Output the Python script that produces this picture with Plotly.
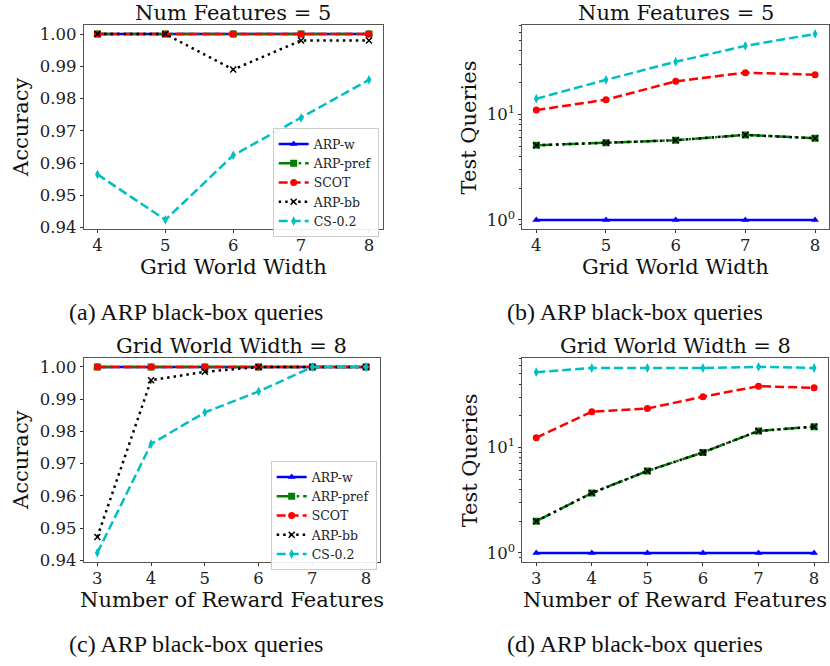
import plotly.graph_objects as go

# ---------------- data ----------------
width_x = [4, 5, 6, 7, 8]
feat_x = [3, 4, 5, 6, 7, 8]

# (a) accuracy vs grid world width (num features = 5)
acc_a_arpw = [1.0, 1.0, 1.0, 1.0, 1.0]
acc_a_pref = [1.0, 1.0, 1.0, 1.0, 1.0]
acc_a_scot = [1.0, 1.0, 1.0, 1.0, 1.0]
acc_a_bb = [1.0, 1.0, 0.989, 0.998, 0.998]
acc_a_cs = [0.9565, 0.9424, 0.9624, 0.974, 0.9858]

# (b) test queries vs grid world width
q_b_arpw = [1, 1, 1, 1, 1]
q_b_pref = [5.1, 5.4, 5.7, 6.4, 5.95]
q_b_scot = [11.0, 13.8, 20.6, 24.9, 23.8]
q_b_bb = [5.1, 5.4, 5.7, 6.4, 5.95]
q_b_cs = [14.1, 21.3, 31.6, 44.7, 58.0]

# (c) accuracy vs number of reward features (grid width = 8)
acc_c_arpw = [1.0, 1.0, 1.0, 1.0, 1.0, 1.0]
acc_c_pref = [1.0, 1.0, 1.0, 1.0, 1.0, 1.0]
acc_c_scot = [1.0, 1.0, 1.0, 1.0, 1.0, 1.0]
acc_c_bb = [0.9472, 0.9959, 0.9985, 1.0, 1.0, 1.0]
acc_c_cs = [0.9423, 0.9761, 0.9859, 0.9924, 1.0, 1.0]

# (d) test queries vs number of reward features
q_d_arpw = [1, 1, 1, 1, 1, 1]
q_d_pref = [2.0, 3.7, 6.0, 9.0, 14.4, 15.8]
q_d_scot = [12.4, 21.9, 23.5, 30.4, 38.3, 37.0]
q_d_bb = [2.0, 3.7, 6.0, 9.0, 14.4, 15.8]
q_d_cs = [52.0, 57.0, 57.0, 57.0, 58.4, 57.0]

names = ["ARP-w", "ARP-pref", "SCOT", "ARP-bb", "CS-0.2"]
captions = ["(a) ARP black-box queries", "(b) ARP black-box queries",
            "(c) ARP black-box queries", "(d) ARP black-box queries"]

acc_ticks = [0.94, 0.95, 0.96, 0.97, 0.98, 0.99, 1.00]
log_ticks = [1, 10]

# ---------------- styling ----------------
W, H = 830, 666
LW = 2.5
styles = {
    "ARP-w": dict(color="#0000FF", dash="solid", symbol="triangle-up"),
    "ARP-pref": dict(color="#008000", dash="16px,4px,2.5px,4px", symbol="square"),
    "SCOT": dict(color="#FF0000", dash="9px,4px", symbol="circle"),
    "ARP-bb": dict(color="#000000", dash="2.5px,4px", symbol="x-thin"),
    "CS-0.2": dict(color="#00BFBF", dash="9px,4px", symbol="diamond-tall"),
}

SERIF = "DejaVu Serif"
TIMES = "Liberation Serif"


def px_x(p):
    return p / W


def px_y(p):
    return 1 - p / H


fig = go.Figure()

panels = [
    ("x", "y", width_x, [acc_a_arpw, acc_a_pref, acc_a_scot, acc_a_bb, acc_a_cs], "legend"),
    ("x2", "y2", width_x, [q_b_arpw, q_b_pref, q_b_scot, q_b_bb, q_b_cs], None),
    ("x3", "y3", feat_x, [acc_c_arpw, acc_c_pref, acc_c_scot, acc_c_bb, acc_c_cs], "legend2"),
    ("x4", "y4", feat_x, [q_d_arpw, q_d_pref, q_d_scot, q_d_bb, q_d_cs], None),
]

for xa, ya, xs, series, leg in panels:
    for name, ys in zip(names, series):
        st = styles[name]
        msize = 7
        mline = dict(width=0)
        if st["symbol"] == "x-thin":
            mline = dict(width=1.5, color=st["color"])
            msize = 6
        tr = go.Scatter(
            x=xs, y=ys, name=name, mode="lines+markers",
            line=dict(color=st["color"], width=LW, dash=st["dash"]),
            marker=dict(symbol=st["symbol"], size=msize, color=st["color"], line=mline),
            xaxis=xa, yaxis=ya,
            showlegend=leg is not None,
        )
        if leg is not None:
            tr.legend = leg
        fig.add_trace(tr)

axis_common = dict(
    showline=True, linecolor="#555555", linewidth=1, mirror=True,
    ticks="outside", ticklen=3, tickcolor="#333333", tickwidth=1,
    showgrid=False, zeroline=False,
    tickfont=dict(family=SERIF, size=16.5, color="#222222"),
)
xaxis_extra = dict(ticklabelstandoff=-2)

# domains (pixel based)
tl = dict(x=(84, 383), y=(25, 232))
trr = dict(x=(523, 830), y=(25, 232))
bl = dict(x=(84, 380), y=(362, 569))
br = dict(x=(523, 829), y=(362, 569))


def dom_x(d):
    return [px_x(d["x"][0]), px_x(d["x"][1])]


def dom_y(d):
    return [px_y(d["y"][1]), px_y(d["y"][0])]


acc_text = ["%.2f" % v for v in acc_ticks]
log_text = ["10<sup>0</sup>", "10<sup>1</sup>"]
minor_log = dict(ticks="outside", ticklen=2.5, tickcolor="#333333", tickwidth=1,
                 dtick="D1", showgrid=False)

fig.update_layout(
    xaxis=dict(domain=dom_x(tl), range=[3.8, 8.2], tickvals=width_x, anchor="y",
               **axis_common, **xaxis_extra),
    yaxis=dict(domain=dom_y(tl), range=[0.9395, 1.0029], tickvals=acc_ticks, ticktext=acc_text,
               anchor="x", **axis_common),
    xaxis2=dict(domain=dom_x(trr), range=[3.8, 8.2], tickvals=width_x, anchor="y2",
                **axis_common, **xaxis_extra),
    yaxis2=dict(domain=dom_y(trr), type="log", range=[-0.088, 1.851], tickvals=log_ticks,
                ticktext=log_text, anchor="x2", minor=minor_log, **axis_common),
    xaxis3=dict(domain=dom_x(bl), range=[2.75, 8.25], tickvals=feat_x, anchor="y3",
                **axis_common, **xaxis_extra),
    yaxis3=dict(domain=dom_y(bl), range=[0.9394, 1.0029], tickvals=acc_ticks, ticktext=acc_text,
                anchor="x3", **axis_common),
    xaxis4=dict(domain=dom_x(br), range=[2.75, 8.25], tickvals=feat_x, anchor="y4",
                **axis_common, **xaxis_extra),
    yaxis4=dict(domain=dom_y(br), type="log", range=[-0.088, 1.854], tickvals=log_ticks,
                ticktext=log_text, anchor="x4", minor=minor_log, **axis_common),
)

legend_common = dict(
    xanchor="left", yanchor="top",
    bgcolor="rgba(255,255,255,0.9)", bordercolor="#cccccc", borderwidth=1,
    font=dict(family=SERIF, size=12.5, color="#222222"),
    tracegroupgap=0, itemwidth=30,
)
fig.update_layout(
    legend=dict(x=px_x(273), y=px_y(130), **legend_common),
    legend2=dict(x=px_x(271), y=px_y(467), **legend_common),
)

annotations = []
# titles
for d, t in [(tl, "Num Features = 5"), (trr, "Num Features = 5"),
             (bl, "Grid World Width = 8"), (br, "Grid World Width = 8")]:
    cx = (d["x"][0] + d["x"][1]) / 2
    annotations.append(dict(text=t, x=px_x(cx), y=px_y(d["y"][0] - 12), xref="paper", yref="paper",
                            showarrow=False, xanchor="center", yanchor="middle",
                            font=dict(family=SERIF, size=21, color="#111111")))
# x axis titles
for d, t in [(tl, "Grid World Width"), (trr, "Grid World Width"),
             (bl, "Number of Reward Features"), (br, "Number of Reward Features")]:
    cx = (d["x"][0] + d["x"][1]) / 2
    annotations.append(dict(text=t, x=px_x(cx), y=px_y(d["y"][1] + 38), xref="paper", yref="paper",
                            showarrow=False, xanchor="center", yanchor="middle",
                            font=dict(family=SERIF, size=21, color="#111111")))
# y axis titles
for d, t, xp in [(tl, "Accuracy", 21), (trr, "Test Queries", 470),
                 (bl, "Accuracy", 21), (br, "Test Queries", 470)]:
    cy = (d["y"][0] + d["y"][1]) / 2
    annotations.append(dict(text=t, x=px_x(xp), y=px_y(cy), xref="paper", yref="paper",
                            showarrow=False, xanchor="center", yanchor="middle", textangle=-90,
                            font=dict(family=SERIF, size=21, color="#111111")))
# captions
for (cx, cy), t in zip([(196, 316), (636, 316), (196, 652), (636, 652)], captions):
    annotations.append(dict(text=t, x=px_x(cx), y=px_y(cy), xref="paper", yref="paper",
                            showarrow=False, xanchor="center", yanchor="middle",
                            font=dict(family=TIMES, size=24, color="#111111")))

fig.update_layout(
    annotations=annotations,
    width=W, height=H,
    margin=dict(l=0, r=0, t=0, b=0),
    paper_bgcolor="white", plot_bgcolor="white",
)

fig.write_html("out.html", config={"displayModeBar": False},
               post_script="document.body.style.margin='0';document.body.style.overflow='hidden';")
